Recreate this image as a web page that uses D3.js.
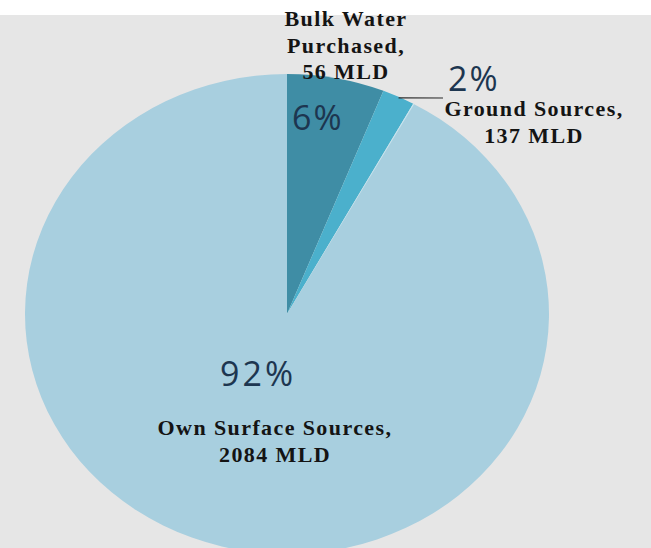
<!DOCTYPE html>
<html>
<head>
<meta charset="utf-8">
<script src="https://cdn.jsdelivr.net/npm/d3@7"></script>
<style>
  html, body { margin: 0; padding: 0; background: #e6e6e6; }
  svg { display: block; }
</style>
</head>
<body>
<svg id="chart" width="651" height="548"></svg>
<script>
// ---- data ----
const categories = ["Bulk Water Purchased", "Ground Sources", "Own Surface Sources"];
const mld = [56, 137, 2084];
const shares = [6, 2, 92];
const shareLabels = ["6%", "2%", "92%"];
const nameLines = [
  ["Bulk Water", "Purchased,", "56 MLD"],
  ["Ground Sources,", "137 MLD"],
  ["Own Surface Sources,", "2084 MLD"]
];
const colors = ["#3f8da5", "#4bb0cc", "#a8cfdf"];

// ---- layout ----
const W = 651, H = 548;
const cx = 287, cy = 314, rx = 262, ry = 240;

const svg = d3.select("#chart");
svg.append("rect").attr("x", 0).attr("y", 0).attr("width", W).attr("height", H).attr("fill", "#e6e6e6");
svg.append("rect").attr("x", 0).attr("y", 0).attr("width", W).attr("height", 15).attr("fill", "#ffffff");

const data = categories.map((c, i) => ({ name: c, mld: mld[i], share: shares[i], i }));

const pie = d3.pie().value(d => d.share).sort(null);
const arc = d3.arc().innerRadius(0).outerRadius(rx);
const arcs = pie(data);

const g = svg.append("g")
  .attr("transform", `translate(${cx},${cy}) scale(1,${ry / rx})`);

g.selectAll("path.slice")
  .data(arcs)
  .enter().append("path")
  .attr("class", "slice")
  .attr("d", arc)
  .attr("fill", d => colors[d.data.i]);

// subtle light edge between ground & surface slices
g.append("path")
  .attr("d", d3.arc().innerRadius(0).outerRadius(rx).startAngle(arcs[2].startAngle).endAngle(arcs[2].startAngle + 0.004)())
  .attr("fill", "#d8eef5")
  .attr("opacity", 0.7);

// ---- leader line for 2% slice ----
const a2 = (arcs[1].startAngle + arcs[1].endAngle) / 2;
const lx0 = cx + rx * Math.sin(a2), ly0 = cy - ry * Math.cos(a2);
svg.append("line")
  .attr("x1", lx0).attr("y1", ly0 + 1)
  .attr("x2", 443).attr("y2", 98)
  .attr("stroke", "#2a2a2a")
  .attr("stroke-width", 1.2);

// ---- percentage labels ----
const pctPos = [[292, 130], [448, 91], [220, 386]];
svg.selectAll("text.pct")
  .data(data)
  .enter().append("text")
  .attr("class", "pct")
  .attr("x", d => pctPos[d.i][0])
  .attr("y", d => pctPos[d.i][1])
  .attr("font-family", "'Open Sans', 'DejaVu Sans', sans-serif")
  .attr("font-size", d => d.i === 2 ? 34 : 34)
  .attr("letter-spacing", d => d.i === 2 ? 3 : 2)
  .attr("fill", "#1d3650")
  .text(d => shareLabels[d.i]);

// ---- category labels ----
const namePos = [[346, 26], [534, 116], [275, 435]];
const lineGap = 26.5;
data.forEach(d => {
  const t = svg.append("text")
    .attr("text-anchor", "middle")
    .attr("font-family", "'Liberation Serif', 'DejaVu Serif', serif")
    .attr("font-weight", "bold")
    .attr("font-size", 22)
    .attr("letter-spacing", 1.4)
    .attr("fill", "#141414");
  nameLines[d.i].forEach((ln, k) => {
    t.append("tspan")
      .attr("x", namePos[d.i][0])
      .attr("y", namePos[d.i][1] + k * lineGap)
      .text(ln);
  });
});
</script>
</body>
</html>
